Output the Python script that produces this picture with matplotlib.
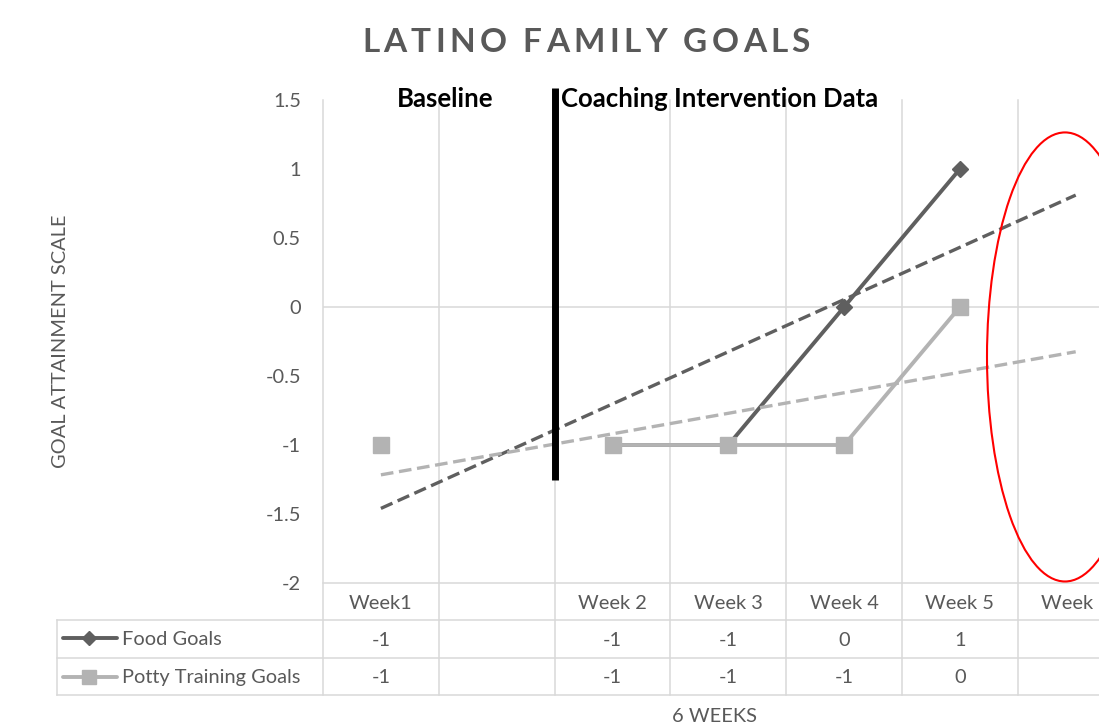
import numpy as np
import matplotlib
matplotlib.use("Agg")
import matplotlib.pyplot as plt
from matplotlib import transforms
from matplotlib.patches import Ellipse
from matplotlib.font_manager import FontProperties, findfont
from matplotlib.ft2font import FT2Font

# ---- data ----
categories = ["Week1", "", "Week 2", "Week 3", "Week 4", "Week 5", "Week 6"]
food_goals = [-1, np.nan, -1, -1, 0, 1, np.nan]
potty_goals = [-1, np.nan, -1, -1, -1, 0, np.nan]
series_names = ["Food Goals", "Potty Training Goals"]
y_ticks = [-2, -1.5, -1, -0.5, 0, 0.5, 1, 1.5]

W, H, DPI = 1099, 722, 100
TEXT = "#595959"
GRID = "#d9d9d9"
FOOD_C = "#5f5f5f"
POTTY_C = "#b3b3b3"
FS = 14.4

plt.rcParams["font.family"] = ["Lato", "DejaVu Sans"]
plt.rcParams["axes.unicode_minus"] = False

# plot area geometry in pixels
col_w = 115.8
left_px, top_px, bot_px = 323, 100, 583
row_px = [583, 620, 658, 695]          # table row boundaries
table_left_px = 57


def fy(py):
    return 1 - py / H


def px_x(px):
    return (px - left_px) / col_w - 0.5


fig = plt.figure(figsize=(W / DPI, H / DPI), dpi=DPI)
n = len(categories)
ax = fig.add_axes([left_px / W, fy(bot_px), n * col_w / W, (bot_px - top_px) / H])
ax.set_xlim(-0.5, n - 0.5)
ax.set_ylim(min(y_ticks), max(y_ticks))
for s in ax.spines.values():
    s.set_visible(False)
ax.set_xticks([])
ax.set_yticks(y_ticks)
ax.set_yticklabels(["%g" % t for t in y_ticks])
ax.tick_params(axis="y", length=0, pad=16, labelsize=FS, labelcolor=TEXT)

blend = transforms.blended_transform_factory(ax.transData, fig.transFigure)

# grid + table lines
bounds = np.arange(n + 1) - 0.5
for b in bounds:
    ax.plot([b, b], [fy(top_px), fy(row_px[-1])], transform=blend, color=GRID,
            lw=1.1, clip_on=False, zorder=1)
ax.axhline(0, color=GRID, lw=1.1, zorder=1)
ax.plot([-0.5, n - 0.5], [fy(row_px[0])] * 2, transform=blend, color=GRID,
        lw=1.1, clip_on=False, zorder=1)
for r in row_px[1:]:
    ax.plot([px_x(table_left_px), n - 0.5], [fy(r)] * 2, transform=blend,
            color=GRID, lw=1.1, clip_on=False, zorder=1)
ax.plot([px_x(table_left_px)] * 2, [fy(row_px[1]), fy(row_px[-1])],
        transform=blend, color=GRID, lw=1.1, clip_on=False, zorder=1)

# series
x = np.arange(n)
ax.plot(x, food_goals, color=FOOD_C, lw=2.8, marker="D", ms=8.5, zorder=3, clip_on=False)
ax.plot(x, potty_goals, color=POTTY_C, lw=2.8, marker="s", ms=12, zorder=4, clip_on=False)

# linear trendlines over the full category range
for vals, col in [(food_goals, FOOD_C), (potty_goals, POTTY_C)]:
    v = np.array(vals, dtype=float)
    m = ~np.isnan(v)
    k, b = np.polyfit(x[m], v[m], 1)
    ax.plot([x[0], x[-1]], [k * x[0] + b, k * x[-1] + b], color=col, lw=2.4,
            ls=(0, (3.8, 1.7)), zorder=5)

# phase change line and labels
ax.plot([1.5, 1.5], [fy(88), fy(480)], transform=blend, color="black", lw=5,
        solid_capstyle="butt", clip_on=False, zorder=6)
ax.text(px_x(445), fy(107), "Baseline", transform=blend, ha="center",
        va="baseline", weight="bold", size=18.5, color="black")
ax.text(px_x(561), fy(107), "Coaching Intervention Data", transform=blend,
        ha="left", va="baseline", weight="bold", size=18.5, color="black")

# red ellipse highlighting week 6
ax.add_patch(Ellipse((px_x(1065), -0.362), width=156 / col_w, height=3.254,
                     fill=False, edgecolor="red", lw=1.5, clip_on=False, zorder=7))

# data table
for i, c in enumerate(categories):
    ax.text(i, fy(609), c, transform=blend, ha="center", va="baseline",
            size=FS, color=TEXT)
for vals, base in [(food_goals, 646), (potty_goals, 683)]:
    for i, v in enumerate(vals):
        if not np.isnan(v):
            ax.text(i, fy(base), "%g" % v, transform=blend, ha="center",
                    va="baseline", size=FS, color=TEXT)

# legend keys inside the table
for name, col, mk, ms, ly, base in [(series_names[0], FOOD_C, "D", 7.5, 638, 645),
                                    (series_names[1], POTTY_C, "s", 10, 677, 683)]:
    ax.plot([px_x(63), px_x(117)], [fy(ly)] * 2, transform=blend, color=col,
            lw=2.8, clip_on=False, solid_capstyle="round")
    ax.plot([px_x(89)], [fy(ly)], transform=blend, color=col, marker=mk, ms=ms,
            clip_on=False)
    ax.text(px_x(122), fy(base), name, transform=blend, ha="left",
            va="baseline", size=FS, color=TEXT)

# axis titles
fig.text(60 / W, fy(341), "GOAL ATTAINMENT SCALE", rotation=90, ha="center",
         va="center", size=FS, color=TEXT)
fig.text(715 / W, fy(722.5), "6 WEEKS", ha="center", va="baseline", size=FS,
         color=TEXT)

# chart title with letter spacing
title = "LATINO FAMILY GOALS"
fp = FontProperties(family="Lato", weight="bold", size=24)
font = FT2Font(findfont(fp))
font.set_size(24, DPI)
adv = [font.load_char(ord(ch)).linearHoriAdvance / 65536 for ch in title]
target_w = 448
tracking = (target_w - sum(adv)) / (len(title) - 1)
xpos = 586 - target_w / 2
for ch, a in zip(title, adv):
    fig.text(xpos / W, fy(52.3), ch, fontproperties=fp, ha="left",
             va="baseline", color=TEXT)
    xpos += a + tracking

fig.savefig("out.png", dpi=DPI)
